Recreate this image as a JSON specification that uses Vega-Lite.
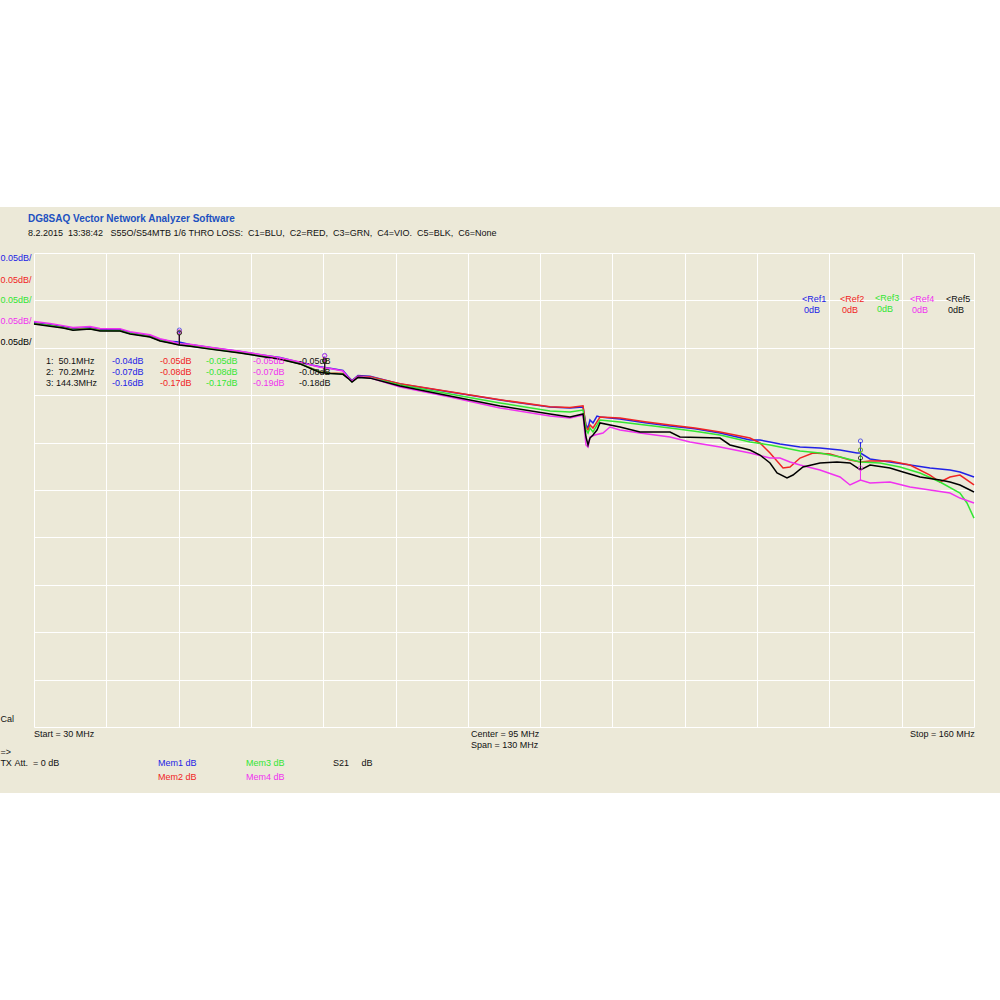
{
  "$schema": "https://vega.github.io/schema/vega-lite/v6.json",
  "width": 940,
  "height": 474,
  "autosize": {"type": "none"},
  "padding": {"left": 34, "top": 253, "right": 26, "bottom": 273},
  "background": "#ECE9D8",
  "config": {
    "view": {"stroke": null},
    "axis": {"labels": false, "ticks": false, "domain": false, "grid": true, "gridColor": "#ffffff", "gridWidth": 1, "gridOpacity": 1},
    "axisX": {"tickCount": 13},
    "axisY": {"tickCount": 10},
    "text": {"font": "Liberation Sans", "fontSize": 9}
  },
  "datasets": {
    "traces": [
      {"trace":"C1","f":30.0,"v":-0.0235},{"trace":"C1","f":32.21,"v":-0.0256},{"trace":"C1","f":34.01,"v":-0.0278},{"trace":"C1","f":35.39,"v":-0.0298},{"trace":"C1","f":37.74,"v":-0.0288},{"trace":"C1","f":39.13,"v":-0.0308},{"trace":"C1","f":41.89,"v":-0.0308},{"trace":"C1","f":43.28,"v":-0.0340},{"trace":"C1","f":46.04,"v":-0.0372},{"trace":"C1","f":47.43,"v":-0.0412},{"trace":"C1","f":48.81,"v":-0.0432},{"trace":"C1","f":50.05,"v":-0.0440},{"trace":"C1","f":51.57,"v":-0.0466},{"trace":"C1","f":54.34,"v":-0.0498},{"trace":"C1","f":58.49,"v":-0.0540},{"trace":"C1","f":61.26,"v":-0.0572},{"trace":"C1","f":64.02,"v":-0.0602},{"trace":"C1","f":66.79,"v":-0.0655},{"trace":"C1","f":69.55,"v":-0.0700},{"trace":"C1","f":70.94,"v":-0.0715},{"trace":"C1","f":72.73,"v":-0.0740},{"trace":"C1","f":73.43,"v":-0.0802},{"trace":"C1","f":73.98,"v":-0.0845},{"trace":"C1","f":74.81,"v":-0.0792},{"trace":"C1","f":76.47,"v":-0.0800},{"trace":"C1","f":80.62,"v":-0.0882},{"trace":"C1","f":87.53,"v":-0.0966},{"trace":"C1","f":94.45,"v":-0.1051},{"trace":"C1","f":101.36,"v":-0.1125},{"trace":"C1","f":104.13,"v":-0.1135},{"trace":"C1","f":105.93,"v":-0.1125},{"trace":"C1","f":106.34,"v":-0.1314},{"trace":"C1","f":106.62,"v":-0.1346},{"trace":"C1","f":106.89,"v":-0.1262},{"trace":"C1","f":107.31,"v":-0.1293},{"trace":"C1","f":107.86,"v":-0.1220},{"trace":"C1","f":108.28,"v":-0.1230},{"trace":"C1","f":111.04,"v":-0.1251},{"trace":"C1","f":114.5,"v":-0.1290},{"trace":"C1","f":117.96,"v":-0.1325},{"trace":"C1","f":121.4,"v":-0.1355},{"trace":"C1","f":124.87,"v":-0.1399},{"trace":"C1","f":129.02,"v":-0.1473},{"trace":"C1","f":130.4,"v":-0.1473},{"trace":"C1","f":131.79,"v":-0.1494},{"trace":"C1","f":133.17,"v":-0.1515},{"trace":"C1","f":135.94,"v":-0.1547},{"trace":"C1","f":138.7,"v":-0.1557},{"trace":"C1","f":141.47,"v":-0.1578},{"trace":"C1","f":143.82,"v":-0.1610},{"trace":"C1","f":144.3,"v":-0.1610},{"trace":"C1","f":145.62,"v":-0.1673},{"trace":"C1","f":148.38,"v":-0.1705},{"trace":"C1","f":151.15,"v":-0.1736},{"trace":"C1","f":153.91,"v":-0.1768},{"trace":"C1","f":156.68,"v":-0.1789},{"trace":"C1","f":158.06,"v":-0.1810},{"trace":"C1","f":160.0,"v":-0.1863},

      {"trace":"C2","f":30.0,"v":-0.0243},{"trace":"C2","f":32.21,"v":-0.0264},{"trace":"C2","f":34.01,"v":-0.0285},{"trace":"C2","f":35.39,"v":-0.0306},{"trace":"C2","f":37.74,"v":-0.0296},{"trace":"C2","f":39.13,"v":-0.0316},{"trace":"C2","f":41.89,"v":-0.0317},{"trace":"C2","f":43.28,"v":-0.0348},{"trace":"C2","f":46.04,"v":-0.0381},{"trace":"C2","f":47.43,"v":-0.0422},{"trace":"C2","f":48.81,"v":-0.0443},{"trace":"C2","f":50.05,"v":-0.0462},{"trace":"C2","f":51.57,"v":-0.0478},{"trace":"C2","f":54.34,"v":-0.0508},{"trace":"C2","f":58.49,"v":-0.0550},{"trace":"C2","f":61.26,"v":-0.0582},{"trace":"C2","f":64.02,"v":-0.0614},{"trace":"C2","f":66.79,"v":-0.0668},{"trace":"C2","f":69.55,"v":-0.0752},{"trace":"C2","f":70.94,"v":-0.0765},{"trace":"C2","f":72.73,"v":-0.0770},{"trace":"C2","f":73.43,"v":-0.0812},{"trace":"C2","f":73.98,"v":-0.0852},{"trace":"C2","f":74.81,"v":-0.0800},{"trace":"C2","f":76.47,"v":-0.0806},{"trace":"C2","f":80.62,"v":-0.0880},{"trace":"C2","f":87.53,"v":-0.0964},{"trace":"C2","f":94.45,"v":-0.1048},{"trace":"C2","f":101.36,"v":-0.1122},{"trace":"C2","f":104.13,"v":-0.1130},{"trace":"C2","f":105.93,"v":-0.1112},{"trace":"C2","f":106.34,"v":-0.1336},{"trace":"C2","f":106.62,"v":-0.1367},{"trace":"C2","f":106.89,"v":-0.1314},{"trace":"C2","f":107.31,"v":-0.1346},{"trace":"C2","f":108.28,"v":-0.1230},{"trace":"C2","f":111.04,"v":-0.1241},{"trace":"C2","f":114.5,"v":-0.1280},{"trace":"C2","f":117.96,"v":-0.1314},{"trace":"C2","f":121.4,"v":-0.1345},{"trace":"C2","f":124.87,"v":-0.1388},{"trace":"C2","f":129.02,"v":-0.1452},{"trace":"C2","f":130.4,"v":-0.1504},{"trace":"C2","f":131.79,"v":-0.1610},{"trace":"C2","f":133.59,"v":-0.1768},{"trace":"C2","f":134.55,"v":-0.1757},{"trace":"C2","f":135.94,"v":-0.1663},{"trace":"C2","f":137.73,"v":-0.1610},{"trace":"C2","f":140.08,"v":-0.1620},{"trace":"C2","f":142.85,"v":-0.1684},{"trace":"C2","f":144.3,"v":-0.1705},{"trace":"C2","f":145.62,"v":-0.1694},{"trace":"C2","f":148.38,"v":-0.1694},{"trace":"C2","f":151.15,"v":-0.1736},{"trace":"C2","f":153.91,"v":-0.1842},{"trace":"C2","f":155.3,"v":-0.1916},{"trace":"C2","f":156.68,"v":-0.1863},{"trace":"C2","f":158.06,"v":-0.1842},{"trace":"C2","f":160.0,"v":-0.1947},

      {"trace":"C3","f":30.0,"v":-0.0245},{"trace":"C3","f":32.21,"v":-0.0266},{"trace":"C3","f":34.01,"v":-0.0288},{"trace":"C3","f":35.39,"v":-0.0309},{"trace":"C3","f":37.74,"v":-0.0298},{"trace":"C3","f":39.13,"v":-0.0318},{"trace":"C3","f":41.89,"v":-0.0320},{"trace":"C3","f":43.28,"v":-0.0350},{"trace":"C3","f":46.04,"v":-0.0383},{"trace":"C3","f":47.43,"v":-0.0424},{"trace":"C3","f":48.81,"v":-0.0446},{"trace":"C3","f":50.05,"v":-0.0465},{"trace":"C3","f":51.57,"v":-0.0480},{"trace":"C3","f":54.34,"v":-0.0510},{"trace":"C3","f":58.49,"v":-0.0552},{"trace":"C3","f":61.26,"v":-0.0584},{"trace":"C3","f":64.02,"v":-0.0617},{"trace":"C3","f":66.79,"v":-0.0668},{"trace":"C3","f":69.55,"v":-0.0755},{"trace":"C3","f":70.94,"v":-0.0768},{"trace":"C3","f":72.73,"v":-0.0775},{"trace":"C3","f":73.43,"v":-0.0818},{"trace":"C3","f":73.98,"v":-0.0858},{"trace":"C3","f":74.81,"v":-0.0808},{"trace":"C3","f":76.47,"v":-0.0815},{"trace":"C3","f":80.62,"v":-0.0892},{"trace":"C3","f":87.53,"v":-0.0987},{"trace":"C3","f":94.45,"v":-0.1082},{"trace":"C3","f":101.36,"v":-0.1167},{"trace":"C3","f":104.13,"v":-0.1177},{"trace":"C3","f":105.93,"v":-0.1156},{"trace":"C3","f":106.34,"v":-0.1367},{"trace":"C3","f":106.62,"v":-0.1399},{"trace":"C3","f":106.89,"v":-0.1346},{"trace":"C3","f":107.31,"v":-0.1388},{"trace":"C3","f":108.28,"v":-0.1262},{"trace":"C3","f":111.04,"v":-0.1283},{"trace":"C3","f":114.5,"v":-0.1315},{"trace":"C3","f":117.96,"v":-0.1346},{"trace":"C3","f":121.4,"v":-0.1380},{"trace":"C3","f":124.87,"v":-0.1420},{"trace":"C3","f":129.02,"v":-0.1494},{"trace":"C3","f":131.79,"v":-0.1525},{"trace":"C3","f":133.17,"v":-0.1547},{"trace":"C3","f":135.94,"v":-0.1589},{"trace":"C3","f":138.7,"v":-0.1610},{"trace":"C3","f":141.47,"v":-0.1652},{"trace":"C3","f":144.3,"v":-0.1705},{"trace":"C3","f":147.0,"v":-0.1715},{"trace":"C3","f":149.77,"v":-0.1757},{"trace":"C3","f":152.53,"v":-0.1821},{"trace":"C3","f":155.3,"v":-0.1916},{"trace":"C3","f":158.06,"v":-0.2032},{"trace":"C3","f":159.03,"v":-0.2137},{"trace":"C3","f":160.0,"v":-0.2296},

      {"trace":"C4","f":30.0,"v":-0.0222},{"trace":"C4","f":32.21,"v":-0.0244},{"trace":"C4","f":34.01,"v":-0.0266},{"trace":"C4","f":35.39,"v":-0.0286},{"trace":"C4","f":37.74,"v":-0.0276},{"trace":"C4","f":39.13,"v":-0.0296},{"trace":"C4","f":41.89,"v":-0.0298},{"trace":"C4","f":43.28,"v":-0.0330},{"trace":"C4","f":46.04,"v":-0.0362},{"trace":"C4","f":47.43,"v":-0.0404},{"trace":"C4","f":48.81,"v":-0.0428},{"trace":"C4","f":50.05,"v":-0.0458},{"trace":"C4","f":51.57,"v":-0.0462},{"trace":"C4","f":54.34,"v":-0.0494},{"trace":"C4","f":58.49,"v":-0.0536},{"trace":"C4","f":61.26,"v":-0.0570},{"trace":"C4","f":64.02,"v":-0.0604},{"trace":"C4","f":66.79,"v":-0.0650},{"trace":"C4","f":69.55,"v":-0.0705},{"trace":"C4","f":70.94,"v":-0.0718},{"trace":"C4","f":72.73,"v":-0.0745},{"trace":"C4","f":73.43,"v":-0.0812},{"trace":"C4","f":73.98,"v":-0.0852},{"trace":"C4","f":74.81,"v":-0.0804},{"trace":"C4","f":76.47,"v":-0.0815},{"trace":"C4","f":80.62,"v":-0.0913},{"trace":"C4","f":87.53,"v":-0.1019},{"trace":"C4","f":94.45,"v":-0.1135},{"trace":"C4","f":101.36,"v":-0.1220},{"trace":"C4","f":104.13,"v":-0.1241},{"trace":"C4","f":105.93,"v":-0.1209},{"trace":"C4","f":106.34,"v":-0.1525},{"trace":"C4","f":106.62,"v":-0.1547},{"trace":"C4","f":106.89,"v":-0.1441},{"trace":"C4","f":107.58,"v":-0.1420},{"trace":"C4","f":108.69,"v":-0.1399},{"trace":"C4","f":109.66,"v":-0.1336},{"trace":"C4","f":111.04,"v":-0.1367},{"trace":"C4","f":113.81,"v":-0.1399},{"trace":"C4","f":117.96,"v":-0.1441},{"trace":"C4","f":120.72,"v":-0.1494},{"trace":"C4","f":124.87,"v":-0.1547},{"trace":"C4","f":129.02,"v":-0.1610},{"trace":"C4","f":131.79,"v":-0.1663},{"trace":"C4","f":133.17,"v":-0.1663},{"trace":"C4","f":134.55,"v":-0.1705},{"trace":"C4","f":135.94,"v":-0.1736},{"trace":"C4","f":138.7,"v":-0.1789},{"trace":"C4","f":141.47,"v":-0.1863},{"trace":"C4","f":142.85,"v":-0.1947},{"trace":"C4","f":144.3,"v":-0.1895},{"trace":"C4","f":145.62,"v":-0.1926},{"trace":"C4","f":148.38,"v":-0.1916},{"trace":"C4","f":151.15,"v":-0.1968},{"trace":"C4","f":153.91,"v":-0.2000},{"trace":"C4","f":156.68,"v":-0.2032},{"trace":"C4","f":158.06,"v":-0.2085},{"trace":"C4","f":160.0,"v":-0.2137},

      {"trace":"C5","f":30.0,"v":-0.0250},{"trace":"C5","f":32.21,"v":-0.0272},{"trace":"C5","f":34.01,"v":-0.0292},{"trace":"C5","f":35.39,"v":-0.0314},{"trace":"C5","f":37.74,"v":-0.0302},{"trace":"C5","f":39.13,"v":-0.0323},{"trace":"C5","f":41.89,"v":-0.0324},{"trace":"C5","f":43.28,"v":-0.0355},{"trace":"C5","f":46.04,"v":-0.0387},{"trace":"C5","f":47.43,"v":-0.0428},{"trace":"C5","f":48.81,"v":-0.0450},{"trace":"C5","f":50.05,"v":-0.0470},{"trace":"C5","f":51.57,"v":-0.0484},{"trace":"C5","f":54.34,"v":-0.0514},{"trace":"C5","f":58.49,"v":-0.0556},{"trace":"C5","f":61.26,"v":-0.0588},{"trace":"C5","f":64.02,"v":-0.0620},{"trace":"C5","f":66.79,"v":-0.0670},{"trace":"C5","f":69.55,"v":-0.0760},{"trace":"C5","f":70.94,"v":-0.0772},{"trace":"C5","f":72.73,"v":-0.0780},{"trace":"C5","f":73.43,"v":-0.0822},{"trace":"C5","f":73.98,"v":-0.0862},{"trace":"C5","f":74.81,"v":-0.0812},{"trace":"C5","f":76.47,"v":-0.0820},{"trace":"C5","f":80.62,"v":-0.0903},{"trace":"C5","f":87.53,"v":-0.1008},{"trace":"C5","f":94.45,"v":-0.1114},{"trace":"C5","f":101.36,"v":-0.1198},{"trace":"C5","f":104.13,"v":-0.1230},{"trace":"C5","f":105.93,"v":-0.1198},{"trace":"C5","f":106.34,"v":-0.1441},{"trace":"C5","f":106.62,"v":-0.1525},{"trace":"C5","f":106.89,"v":-0.1452},{"trace":"C5","f":107.31,"v":-0.1420},{"trace":"C5","f":107.86,"v":-0.1367},{"trace":"C5","f":108.28,"v":-0.1293},{"trace":"C5","f":111.04,"v":-0.1336},{"trace":"C5","f":113.81,"v":-0.1388},{"trace":"C5","f":117.96,"v":-0.1388},{"trace":"C5","f":119.34,"v":-0.1441},{"trace":"C5","f":124.87,"v":-0.1452},{"trace":"C5","f":126.25,"v":-0.1525},{"trace":"C5","f":129.02,"v":-0.1578},{"trace":"C5","f":130.4,"v":-0.1631},{"trace":"C5","f":131.79,"v":-0.1715},{"trace":"C5","f":132.76,"v":-0.1821},{"trace":"C5","f":134.14,"v":-0.1873},{"trace":"C5","f":134.97,"v":-0.1842},{"trace":"C5","f":136.35,"v":-0.1757},{"trace":"C5","f":138.7,"v":-0.1715},{"trace":"C5","f":141.05,"v":-0.1705},{"trace":"C5","f":142.85,"v":-0.1715},{"trace":"C5","f":144.3,"v":-0.1789},{"trace":"C5","f":145.62,"v":-0.1736},{"trace":"C5","f":148.38,"v":-0.1768},{"trace":"C5","f":150.18,"v":-0.1810},{"trace":"C5","f":152.53,"v":-0.1863},{"trace":"C5","f":155.3,"v":-0.1895},{"trace":"C5","f":156.68,"v":-0.1916},{"trace":"C5","f":158.06,"v":-0.1947},{"trace":"C5","f":160.0,"v":-0.2021}
    ],
    "markers": [
      {"trace":"C1","f":50.1,"v":-0.0440},{"trace":"C2","f":50.1,"v":-0.0462},{"trace":"C3","f":50.1,"v":-0.0465},{"trace":"C4","f":50.1,"v":-0.0458},{"trace":"C5","f":50.1,"v":-0.0470},
      {"trace":"C1","f":70.2,"v":-0.0708},{"trace":"C2","f":70.2,"v":-0.0758},{"trace":"C3","f":70.2,"v":-0.0762},{"trace":"C4","f":70.2,"v":-0.0712},{"trace":"C5","f":70.2,"v":-0.0766},
      {"trace":"C1","f":144.3,"v":-0.1610},{"trace":"C2","f":144.3,"v":-0.1705},{"trace":"C3","f":144.3,"v":-0.1705},{"trace":"C4","f":144.3,"v":-0.1895},{"trace":"C5","f":144.3,"v":-0.1789}
    ],
    "heading": [
      {"label":"DG8SAQ Vector Network Analyzer Software","f":29.17,"v":0.0859}
    ],
    "labels": [
      {"label":"8.2.2015\u00a0\u00a013:38:42\u00a0\u00a0\u00a0S55O/S54MTB 1/6 THRO LOSS:\u00a0 C1=BLU,\u00a0 C2=RED,\u00a0 C3=GRN,\u00a0 C4=VIO.\u00a0 C5=BLK,\u00a0 C6=None","trace":"T","f":29.17,"v":0.0711},
      {"label":"0.05dB/","trace":"C1","f":25.35,"v":0.0447},
      {"label":"0.05dB/","trace":"C2","f":25.35,"v":0.0215},
      {"label":"0.05dB/","trace":"C3","f":25.35,"v":0.0004},
      {"label":"0.05dB/","trace":"C4","f":25.35,"v":-0.0217},
      {"label":"0.05dB/","trace":"C5","f":25.35,"v":-0.0439},
      {"label":"1:\u00a0\u00a050.1MHz","trace":"T","f":31.66,"v":-0.0639},
      {"label":"2:\u00a0\u00a070.2MHz","trace":"T","f":31.66,"v":-0.0755},
      {"label":"3:\u00a0144.3MHz","trace":"T","f":31.66,"v":-0.0871},
      {"label":"-0.04dB","trace":"C1","f":40.79,"v":-0.0639},
      {"label":"-0.07dB","trace":"C1","f":40.79,"v":-0.0755},
      {"label":"-0.16dB","trace":"C1","f":40.79,"v":-0.0871},
      {"label":"-0.05dB","trace":"C2","f":47.43,"v":-0.0639},
      {"label":"-0.08dB","trace":"C2","f":47.43,"v":-0.0755},
      {"label":"-0.17dB","trace":"C2","f":47.43,"v":-0.0871},
      {"label":"-0.05dB","trace":"C3","f":53.79,"v":-0.0639},
      {"label":"-0.08dB","trace":"C3","f":53.79,"v":-0.0755},
      {"label":"-0.17dB","trace":"C3","f":53.79,"v":-0.0871},
      {"label":"-0.05dB","trace":"C4","f":60.29,"v":-0.0639},
      {"label":"-0.07dB","trace":"C4","f":60.29,"v":-0.0755},
      {"label":"-0.19dB","trace":"C4","f":60.29,"v":-0.0871},
      {"label":"-0.05dB","trace":"T","f":66.65,"v":-0.0639},
      {"label":"-0.08dB","trace":"T","f":66.65,"v":-0.0755},
      {"label":"-0.18dB","trace":"T","f":66.65,"v":-0.0871},
      {"label":"<Ref1","trace":"C1","f":136.21,"v":0.0015},
      {"label":"0dB","trace":"C1","f":136.49,"v":-0.0101},
      {"label":"<Ref2","trace":"C2","f":141.47,"v":0.0015},
      {"label":"0dB","trace":"C2","f":141.74,"v":-0.0101},
      {"label":"<Ref3","trace":"C3","f":146.31,"v":0.0025},
      {"label":"0dB","trace":"C3","f":146.59,"v":-0.0091},
      {"label":"<Ref4","trace":"C4","f":151.15,"v":0.0015},
      {"label":"0dB","trace":"C4","f":151.42,"v":-0.0101},
      {"label":"<Ref5","trace":"T","f":156.13,"v":0.0015},
      {"label":"0dB","trace":"T","f":156.41,"v":-0.0101},
      {"label":"Cal","trace":"T","f":25.35,"v":-0.4416},
      {"label":"Start = 30 MHz","trace":"T","f":30.0,"v":-0.4574},
      {"label":"Center = 95 MHz","trace":"T","f":90.44,"v":-0.4574},
      {"label":"Span = 130 MHz","trace":"T","f":90.44,"v":-0.4690},
      {"label":"Stop = 160 MHz","trace":"T","f":151.15,"v":-0.4574},
      {"label":"=>","trace":"T","f":25.35,"v":-0.4764},
      {"label":"TX\u00a0Att.\u00a0\u00a0=\u00a00\u00a0dB","trace":"T","f":25.35,"v":-0.4880},
      {"label":"Mem1 dB","trace":"C1","f":47.15,"v":-0.4880},
      {"label":"Mem2 dB","trace":"C2","f":47.15,"v":-0.5028},
      {"label":"Mem3 dB","trace":"C3","f":59.32,"v":-0.4880},
      {"label":"Mem4 dB","trace":"C4","f":59.32,"v":-0.5028},
      {"label":"S21\u00a0\u00a0\u00a0\u00a0\u00a0dB","trace":"T","f":71.35,"v":-0.4880}
    ]
  },
  "layer": [
    {
      "data": {"values": [{}]},
      "mark": {"type": "rect", "fill": "#ffffff", "clip": false},
      "encoding": {
        "x": {"datum": 10, "type": "quantitative", "title": null, "scale": {"domain": [30, 160], "nice": false, "zero": false}},
        "x2": {"datum": 180},
        "y": {"datum": 0.0985, "type": "quantitative", "title": null, "scale": {"domain": [-0.45, 0.05], "nice": false, "zero": false}},
        "y2": {"datum": 0.5}
      }
    },
    {
      "data": {"values": [{}]},
      "mark": {"type": "rect", "fill": "#ffffff", "clip": false},
      "encoding": {
        "x": {"datum": 10, "type": "quantitative", "title": null, "scale": {"domain": [30, 160], "nice": false, "zero": false}},
        "x2": {"datum": 180},
        "y": {"datum": -0.5196, "type": "quantitative", "title": null, "scale": {"domain": [-0.45, 0.05], "nice": false, "zero": false}},
        "y2": {"datum": -0.9}
      }
    },
    {
      "data": {"name": "traces"},
      "mark": {"type": "line", "strokeWidth": 1.5, "clip": false},
      "encoding": {
        "x": {"field": "f", "type": "quantitative", "title": null, "scale": {"domain": [30, 160], "nice": false, "zero": false}},
        "y": {"field": "v", "type": "quantitative", "title": null, "scale": {"domain": [-0.45, 0.05], "nice": false, "zero": false}},
        "color": {"field": "trace", "type": "nominal", "legend": null, "scale": {"domain": ["C1", "C2", "C3", "C4", "C5", "T"], "range": ["#2222e6", "#f02424", "#33e633", "#f032f0", "#000000", "#111111"]}},
        "order": {"field": "f", "type": "quantitative"}
      }
    },
    {
      "data": {"name": "markers"},
      "mark": {"type": "rule", "strokeWidth": 1, "y2Offset": -11},
      "encoding": {
        "x": {"field": "f", "type": "quantitative", "title": null},
        "y": {"field": "v", "type": "quantitative", "title": null},
        "y2": {"field": "v"},
        "color": {"field": "trace", "type": "nominal", "legend": null}
      }
    },
    {
      "data": {"name": "markers"},
      "mark": {"type": "point", "shape": "circle", "filled": false, "size": 18, "strokeWidth": 1, "yOffset": -12},
      "encoding": {
        "x": {"field": "f", "type": "quantitative", "title": null},
        "y": {"field": "v", "type": "quantitative", "title": null},
        "color": {"field": "trace", "type": "nominal", "legend": null}
      }
    },
    {
      "data": {"name": "heading"},
      "mark": {"type": "text", "align": "left", "baseline": "middle", "clip": false, "font": "Liberation Sans", "fontSize": 10, "fontWeight": "bold", "color": "#2050c0"},
      "encoding": {
        "x": {"field": "f", "type": "quantitative", "title": null},
        "y": {"field": "v", "type": "quantitative", "title": null},
        "text": {"field": "label"}
      }
    },
    {
      "data": {"name": "labels"},
      "mark": {"type": "text", "align": "left", "baseline": "middle", "clip": false},
      "encoding": {
        "x": {"field": "f", "type": "quantitative", "title": null},
        "y": {"field": "v", "type": "quantitative", "title": null},
        "text": {"field": "label"},
        "color": {"field": "trace", "type": "nominal", "legend": null}
      }
    }
  ]
}
